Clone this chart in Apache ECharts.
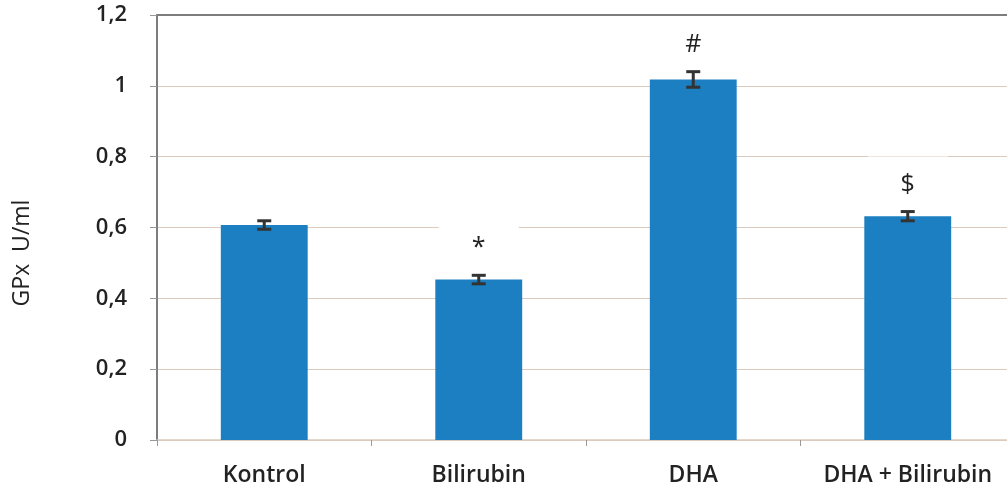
<!DOCTYPE html>
<html>
<head>
<meta charset="utf-8">
<script src="https://cdn.jsdelivr.net/npm/echarts@6/dist/echarts.min.js"></script>
<style>
  html, body { margin: 0; padding: 0; background: #fff; }
  #main { width: 1007px; height: 494px; }
</style>
</head>
<body>
<div id="main"></div>
<script>
var categories = ['Kontrol', 'Bilirubin', 'DHA', 'DHA + Bilirubin']
var gpxValues = [0.607, 0.453, 1.018, 0.632]
var gpxErrors = [0.012, 0.012, 0.022, 0.013]
var marks = ['', '*', '#', '$']
var yTicks = [0, 0.2, 0.4, 0.6, 0.8, 1, 1.2]

var chart = echarts.init(document.getElementById('main'))

var font = 'Open Sans'
var textColor = '#222'
var gridColor = '#dccbbd'
var axisColor = '#7d7d7d'

var errData = categories.map(function (c, i) {
  return [i, gpxValues[i], gpxErrors[i]]
})

var option = {
  animation: false,
  backgroundColor: '#fff',
  grid: { left: 157, top: 15, width: 858, bottom: 54, outerBoundsMode: 'none' },
  xAxis: [{
    type: 'category',
    data: categories,
    axisLine: { lineStyle: { color: gridColor, width: 1.5 } },
    axisTick: { show: true, length: 6, lineStyle: { color: '#999' } },
    axisLabel: { interval: 0, color: textColor, fontFamily: font, fontSize: 23, fontWeight: 600, margin: 24 }
  }, {
    type: 'category',
    data: categories,
    position: 'top',
    axisLine: { lineStyle: { color: axisColor, width: 2 } },
    axisTick: { show: false },
    axisLabel: { show: false }
  }],
  yAxis: {
    type: 'value',
    min: yTicks[0],
    max: yTicks[yTicks.length - 1],
    interval: 0.2,
    axisLine: { show: true, lineStyle: { color: axisColor, width: 2 } },
    axisTick: { show: true, length: 7, lineStyle: { color: '#999' } },
    splitLine: { lineStyle: { color: gridColor, width: 1.2 } },
    axisLabel: {
      color: textColor, fontFamily: font, fontSize: 22, fontWeight: 600, margin: 30,
      formatter: function (v) { return String(+v.toFixed(1)).replace('.', ',') }
    }
  },
  graphic: [{
    type: 'text',
    x: 22, y: 253,
    rotation: Math.PI / 2,
    style: {
      text: 'GPx  U/ml', fill: textColor, font: '500 23px "Open Sans"',
      align: 'center', verticalAlign: 'middle'
    }
  }],
  series: [{
    type: 'bar',
    data: gpxValues,
    barWidth: '40.5%',
    itemStyle: { color: '#1b7fc1' }
  }, {
    type: 'custom',
    data: errData,
    z: 5,
    renderItem: function (params, api) {
      var x = api.value(0)
      var v = api.value(1)
      var e = api.value(2)
      var top = api.coord([x, v + e])
      var bot = api.coord([x, v - e])
      var cap = 7
      var st = { stroke: '#333', lineWidth: 3 }
      var children = [
        { type: 'line', shape: { x1: top[0], y1: top[1], x2: bot[0], y2: bot[1] }, style: st },
        { type: 'line', shape: { x1: top[0] - cap, y1: top[1], x2: top[0] + cap, y2: top[1] }, style: st },
        { type: 'line', shape: { x1: bot[0] - cap, y1: bot[1], x2: bot[0] + cap, y2: bot[1] }, style: st }
      ]
      var m = marks[params.dataIndex]
      if (m) {
        var cy = top[1] - 27
        var gridTop = api.coord([x, yTicks[yTicks.length - 1]])[1] + 2
        var rTop = Math.max(cy - 28, gridTop)
        children.push({
          type: 'rect',
          shape: { x: top[0] - 40, y: rTop, width: 80, height: cy + 16 - rTop },
          style: { fill: '#fff' }
        })
        children.push({
          type: 'text',
          style: {
            text: m, x: top[0], y: cy, align: 'center', verticalAlign: 'middle',
            fill: textColor, font: '500 25px "Open Sans"'
          }
        })
      }
      return { type: 'group', children: children }
    }
  }]
}

chart.setOption(option)
</script>
</body>
</html>
